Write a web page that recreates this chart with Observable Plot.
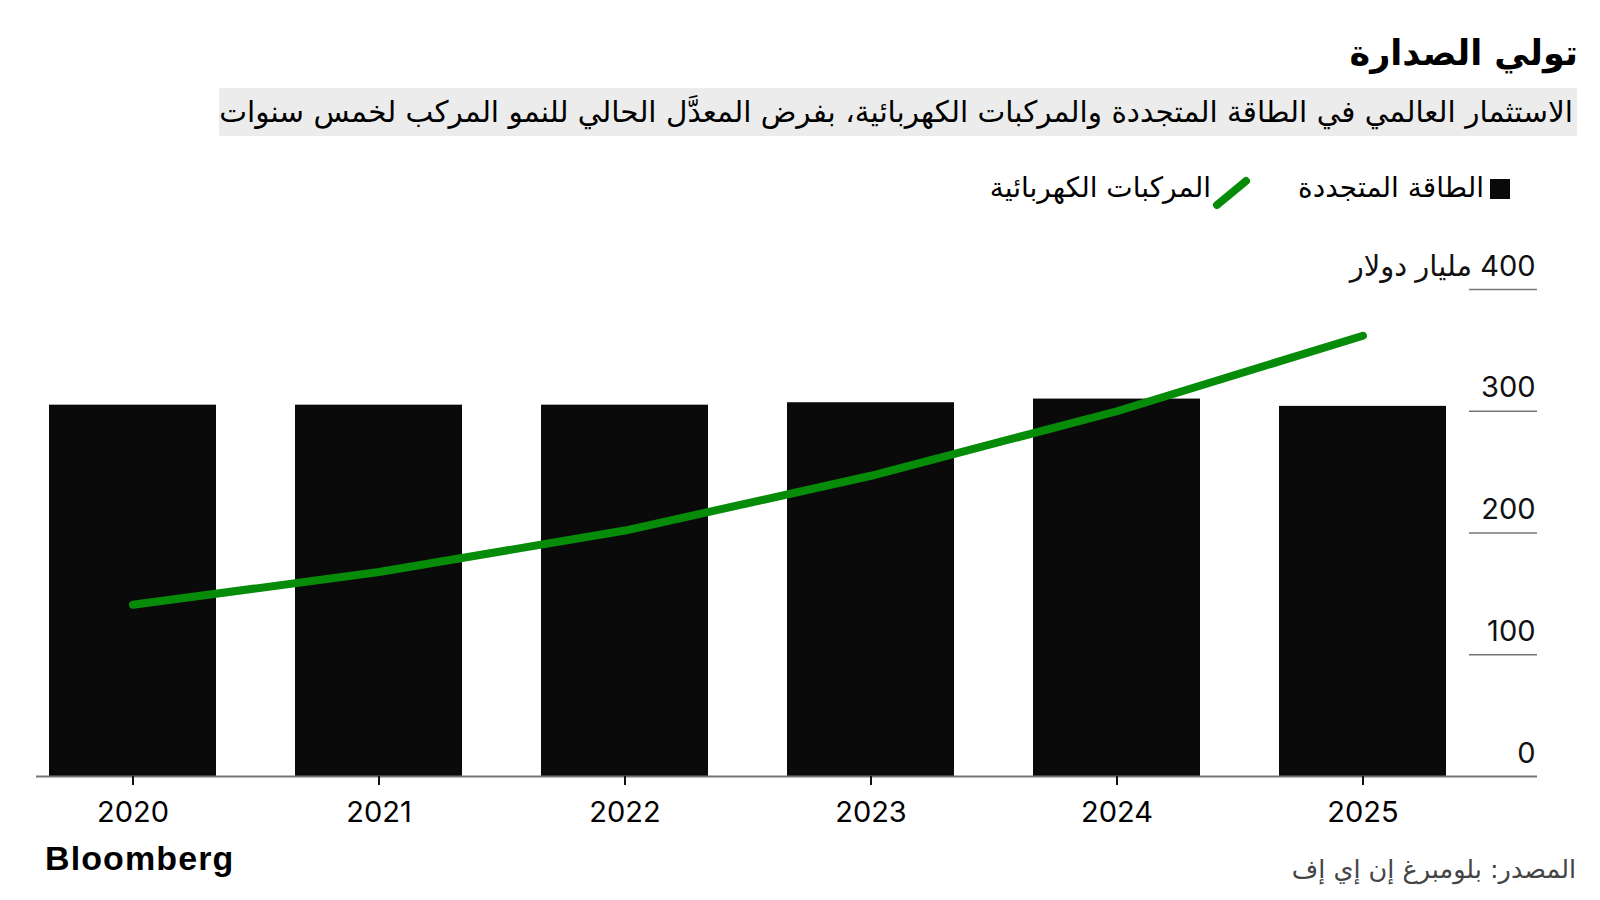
<!DOCTYPE html>
<html lang="ar">
<head>
<meta charset="utf-8">
<script src="https://cdn.jsdelivr.net/npm/d3@7"></script>
<script src="https://cdn.jsdelivr.net/npm/@observablehq/plot@0.6"></script>
<style>
  html, body { margin: 0; padding: 0; background: #fff; }
  #page { position: relative; width: 1600px; height: 900px; overflow: hidden; font-family: "DejaVu Sans", sans-serif; color: #000; }
  .abs { position: absolute; white-space: nowrap; }
  #title { right: 22px; top: 28px; font-size: 35px; font-weight: bold; direction: rtl; line-height: 50px; }
  #subtitle { left: 219px; right: 23px; top: 88px; height: 48px; background: #ececec; direction: rtl; text-align: right; font-size: 29.5px; line-height: 48px; padding-right: 4px; box-sizing: border-box; }
  .legtext { font-size: 28px; direction: rtl; line-height: 32px; top: 172px; }
  #legsq { left: 1490px; top: 179px; width: 20px; height: 20px; background: #0a0a0a; }
  #chart { position: absolute; left: 0; top: 230px; }
  #logo { left: 45px; top: 841px; font-family: "Liberation Sans", Arial, sans-serif; font-weight: bold; font-size: 34px; line-height: 34px; letter-spacing: 1.1px; }
  #source { right: 24px; top: 853px; font-size: 25.5px; color: #444; direction: rtl; line-height: 32px; }
</style>
</head>
<body>
<div id="page">
  <div id="title" class="abs">تولي الصدارة</div>
  <div id="subtitle" class="abs">الاستثمار العالمي في الطاقة المتجددة والمركبات الكهربائية، بفرض المعدَّل الحالي للنمو المركب لخمس سنوات</div>
  <div id="legsq" class="abs"></div>
  <div id="leg1" class="abs legtext" style="right:116px;"></div>
  <svg class="abs" style="left:1212px; top:176px;" width="40" height="34"><line x1="5" y1="29" x2="34" y2="5" stroke="#078c0a" stroke-width="8" stroke-linecap="round"/></svg>
  <div id="leg2" class="abs legtext" style="right:389px;"></div>
  <div id="chart"></div>
  <div id="logo" class="abs">Bloomberg</div>
  <div id="source" class="abs">المصدر: بلومبرغ إن إي إف</div>
</div>
<script>
const years = ["2020", "2021", "2022", "2023", "2024", "2025"];
const renewables = [305, 305, 305, 307, 310, 304];
const evs = [141, 168, 202, 247, 300, 362];
const seriesNames = ["الطاقة المتجددة", "المركبات الكهربائية"];
const yTicks = [0, 100, 200, 300, 400];
const yTickLabels = ["0", "100", "200", "300", "\u200F400 مليار دولار"];

document.getElementById("leg1").textContent = seriesNames[0];
document.getElementById("leg2").textContent = seriesNames[1];

const data = years.map((year, i) => ({year, renewables: renewables[i], ev: evs[i]}));

const chart = Plot.plot({
  width: 1600,
  height: 600,
  marginTop: 59,
  marginBottom: 54,
  marginLeft: 36,
  marginRight: 63,
  style: {fontFamily: "Inter, 'DejaVu Sans', sans-serif", color: "#000", background: "transparent"},
  x: {type: "band", domain: years, range: [48, 1448], paddingInner: 0.32, paddingOuter: 0, align: 0.5, axis: null},
  y: {domain: [0, 400], axis: null},
  marks: [
    Plot.barY(data, {x: "year", y: "renewables", fill: "#0a0a0a"}),
    Plot.ruleY(yTicks.filter(d => d > 0), {stroke: "#777", strokeWidth: 1.5, insetLeft: 1433}),
    Plot.ruleY([0], {stroke: "#777", strokeWidth: 2}),
    Plot.line(data, {x: "year", y: "ev", stroke: "#078c0a", strokeWidth: 8, strokeLinecap: "round", strokeLinejoin: "round"}),
    Plot.axisX({tickSize: 9, tickPadding: 16, fontSize: 29, strokeWidth: 2, stroke: "#111", label: null}),
    Plot.text(yTicks, {y: d => d, text: (d, i) => yTickLabels[i], frameAnchor: "right", textAnchor: "end", lineAnchor: "bottom", dx: -2, dy: -14, fontSize: 29, fill: "#111"})
  ]
});
document.getElementById("chart").appendChild(chart);
</script>
</body>
</html>
